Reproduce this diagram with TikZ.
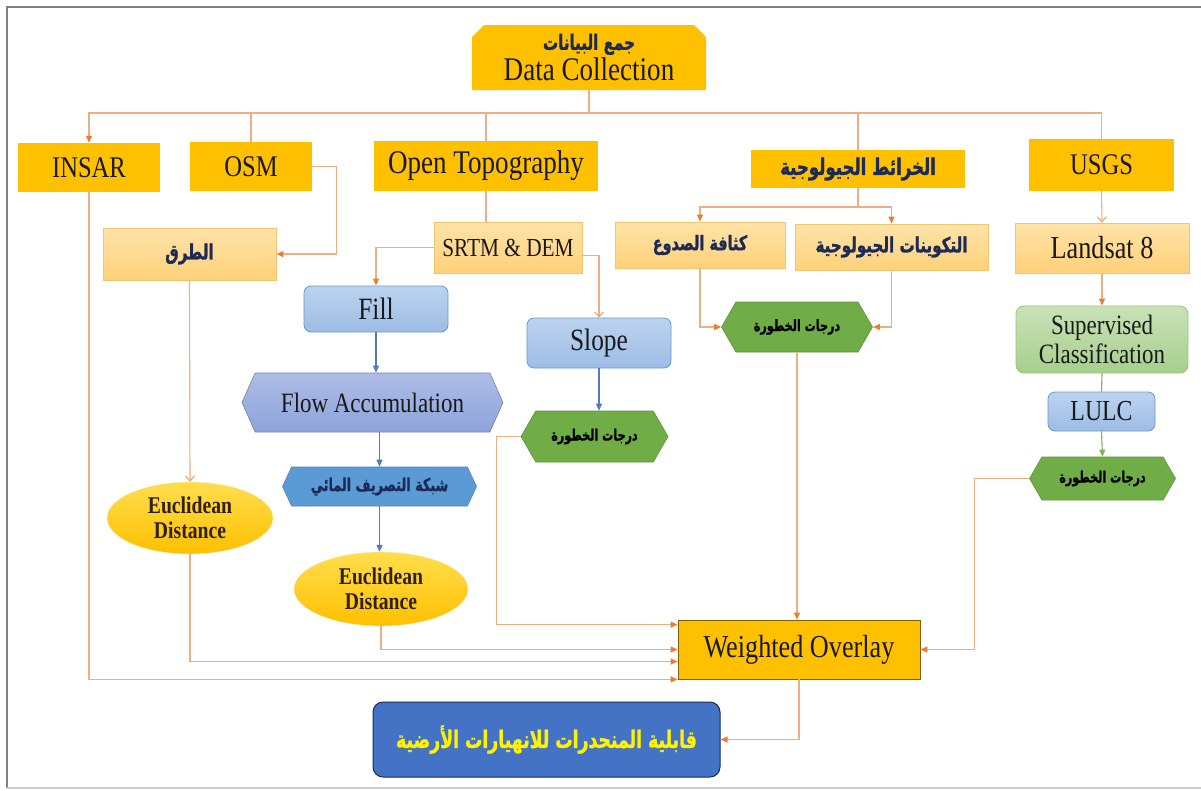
\documentclass[tikz,border=0pt]{standalone}
\usepackage{fontspec}
\setmainfont{Liberation Serif}[FakeStretch=0.82]
\newfontfamily\arabicfont[Script=Arabic,FakeStretch=0.72,BoldFeatures={FakeBold=1.2}]{DejaVu Sans}
\TeXXeTstate=1
\usetikzlibrary{shapes.misc,shapes.symbols,shapes.geometric,arrows.meta}

\definecolor{gold}{HTML}{FFC000}
\definecolor{lor1}{HTML}{FFE3A8}
\definecolor{lor2}{HTML}{FFD17A}
\definecolor{lorline}{HTML}{F2C46E}
\definecolor{lb1}{HTML}{BBD3EF}
\definecolor{lb2}{HTML}{9DBDE6}
\definecolor{lbline}{HTML}{6F95CC}
\definecolor{lav1}{HTML}{AEBDE8}
\definecolor{lav2}{HTML}{8EA3D9}
\definecolor{midblue}{HTML}{5B9BD5}
\definecolor{hgreen}{HTML}{70AD47}
\definecolor{lg1}{HTML}{C9E2B8}
\definecolor{lg2}{HTML}{A7CF8C}
\definecolor{navy}{HTML}{1C2A56}
\definecolor{resblue}{HTML}{4472C4}
\definecolor{oline}{HTML}{EDAE85}
\definecolor{otip}{HTML}{ED7D31}
\definecolor{bline}{HTML}{4F7CC4}
\definecolor{gline}{HTML}{7DB45A}

\newcommand{\arf}[1]{\arabicfont\bfseries\fontsize{#1}{#1}\selectfont}

\begin{document}
\begin{tikzpicture}[x=1pt,y=-1pt,
  every node/.style={inner sep=0pt,align=center,text=black!90},
  sz/.style 2 args={minimum width=#1pt,minimum height=#2pt},
  srcbox/.style={rectangle,fill=gold,font=\fontsize{30}{32}\selectfont},
  lightbox/.style={rectangle,top color=lor1,bottom color=lor2,draw=lorline,line width=0.8pt},
  bluebox/.style={rectangle,rounded corners=7pt,top color=lb1,bottom color=lb2,draw=lbline,line width=0.8pt,font=\fontsize{31}{33}\selectfont},
  hexa/.style={signal,signal to=east and west,signal from=nowhere,signal pointer angle=#1},
  haz/.style={hexa=120,fill=hgreen,draw=hgreen!85!black,line width=0.6pt,text=black},
  eucl/.style={ellipse,top color=gold!75!yellow!70,bottom color=gold,draw=gold!90!black!20,text=black!75!brown,font=\bfseries\fontsize{24}{25}\selectfont},
  line/.style={draw=oline,line width=1.1pt},
  arr/.style={line,-{Triangle[color=otip,length=7pt,width=6pt]}},
  barb/.style={line,-{Straight Barb[color=otip!70,length=5pt,width=9pt]}},
  barr/.style={draw=bline,line width=1.1pt,-{Triangle[length=7pt,width=6pt]}},
  garr/.style={draw=gline,line width=1.1pt,-{Triangle[length=7pt,width=6pt]}}]

\useasboundingbox (0,0) rectangle (1201,790);
\draw[gray,line width=1.6pt] (1201,7) -- (7,7) -- (7,788);
\draw[gray!40,line width=1.6pt] (7,788) -- (1201,788);

\node[srcbox,chamfered rectangle,chamfered rectangle corners={north west,north east},
  chamfered rectangle xsep=6pt,chamfered rectangle ysep=6pt,sz={234}{65}] (data) at (589,57.5)
  {\textcolor{navy}{\arf{21}\beginR جمع البيانات\endR}\\[-1pt]{\fontsize{33}{34}\selectfont Data Collection}};

\node[srcbox,sz={142}{49}] (insar) at (89,167.5) {INSAR};
\node[srcbox,sz={122}{49}] (osm) at (251,166.5) {OSM};
\node[srcbox,sz={224}{50},font=\fontsize{33}{34}\selectfont] (topo) at (486,166) {Open Topography};
\node[srcbox,sz={214}{38},text=navy] (geo) at (858,169) {\arf{23}\beginR الخرائط الجيولوجية\endR};
\node[srcbox,sz={145}{52}] (usgs) at (1101.5,165) {USGS};

\node[lightbox,sz={173}{52},text=navy] (roads) at (189.5,254) {\arf{21}\beginR الطرق\endR};
\node[lightbox,sz={148}{51},font=\fontsize{26}{28}\selectfont] (srtm) at (508,247.5) {SRTM \& DEM};
\node[lightbox,sz={170}{46},text=navy] (faults) at (700,245) {\arf{20}\beginR كثافة الصدوع\endR};
\node[lightbox,sz={193}{46},text=navy] (forms) at (891.5,247) {\arf{21}\beginR التكوينات الجيولوجية\endR};
\node[lightbox,sz={174}{50},font=\fontsize{32}{33}\selectfont] (landsat) at (1102,248) {Landsat 8};

\node[bluebox,sz={144}{46}] (fill) at (376,309) {Fill};
\node[bluebox,sz={144}{50}] (slope) at (599,343) {Slope};
\node[haz,sz={151}{50}] (hzgeo) at (797,327) {\arf{15.5}\beginR درجات الخطورة\endR};
\node[rectangle,rounded corners=8pt,top color=lg1,bottom color=lg2,draw=gline!80,line width=0.8pt,
  sz={172}{67},font=\fontsize{28}{29}\selectfont] (superv) at (1102,339.5) {Supervised\\Classification};

\node[hexa=132,top color=lav1,bottom color=lav2,draw=lav2!80!black,line width=0.6pt,
  sz={261}{59},font=\fontsize{28}{30}\selectfont] (flow) at (372.5,402.5) {Flow Accumulation};
\node[bluebox,sz={107}{39},font=\fontsize{29}{30}\selectfont] (lulc) at (1101.5,411.5) {LULC};
\node[haz,sz={147}{51}] (hzslope) at (594.5,436.5) {\arf{15.5}\beginR درجات الخطورة\endR};
\node[hexa=130,fill=midblue,draw=midblue!85!black,line width=0.6pt,sz={194}{39},text=navy] (drain) at (379.5,486.5)
  {\arf{17.8}\beginR شبكة التصريف المائي\endR};
\node[haz,sz={146}{43}] (hzlulc) at (1102.5,478.5) {\arf{15.5}\beginR درجات الخطورة\endR};

\node[eucl,sz={166}{72}] (eda) at (190,518) {Euclidean\\Distance};
\node[eucl,sz={174}{74}] (edb) at (381,589) {Euclidean\\Distance};

\node[rectangle,fill=gold,draw=gold!50!black,line width=0.7pt,sz={242}{59},font=\fontsize{32}{33}\selectfont] (wo) at (799,649.5) {Weighted Overlay};
\node[rectangle,rounded corners=10pt,fill=resblue,draw=navy,line width=1pt,sz={347}{75},text=yellow] (res) at (546.5,739.5)
  {\arf{24}\beginR قابلية المنحدرات للانهيارات الأرضية\endR};

\coordinate (bus) at (589,113);
\coordinate (gbus) at (858,207);

\draw[line] (data.south) -- (bus);
\draw[arr] (bus) -| (insar.north);
\draw[line] (bus) -| (osm.north);
\draw[line] (bus) -| (topo.north);
\draw[line] (bus) -| (geo.north);
\draw[line] (bus) -| (usgs.north);

\draw[arr] (osm.east) -- ++(24,0) |- (roads.east);
\draw[line] (topo.south) -- (topo.south |- srtm.north);
\draw[arr] (srtm.west) -| (fill.north);
\draw[barb] ([yshift=-8pt]srtm.east) -| (slope.north);
\draw[barr] (fill.south) -- (fill.south |- flow.north);
\draw[barr] (drain.north |- flow.south) -- (drain.north);
\draw[barr] (drain.south) -- (drain.south |- edb.north);
\draw[barb] (roads.south) -- (eda.north);
\draw[barr] (slope.south) -- (slope.south |- hzslope.north);

\draw[line] (geo.south) -- (gbus);
\draw[arr] (gbus) -| (faults.north);
\draw[arr] (gbus) -| (forms.north);
\draw[arr] (faults.south) |- (hzgeo.west);
\draw[arr] (forms.south) |- (hzgeo.east);

\draw[barb] (usgs.south) -- (landsat.north);
\draw[arr] (landsat.south) -- (superv.north);
\draw[draw=gline,line width=1.1pt] (superv.south) -- (lulc.north);
\draw[garr] (lulc.south) -- (hzlulc.north);

\draw[arr] (hzgeo.south) -- (hzgeo.south |- wo.north);
\draw[arr] (hzlulc.west) -- ++(-55,0) |- (wo.east);
\draw[arr] (hzslope.west) -- ++(-24,0) |- ([yshift=-5pt]wo.north west);
\draw[arr] (edb.south) |- (wo.west);
\draw[arr] (eda.south) |- ([yshift=-12pt]wo.west);
\draw[arr] (insar.south) |- (wo.south west);
\draw[arr] (wo.south) |- (res.east);
\end{tikzpicture}
\end{document}
